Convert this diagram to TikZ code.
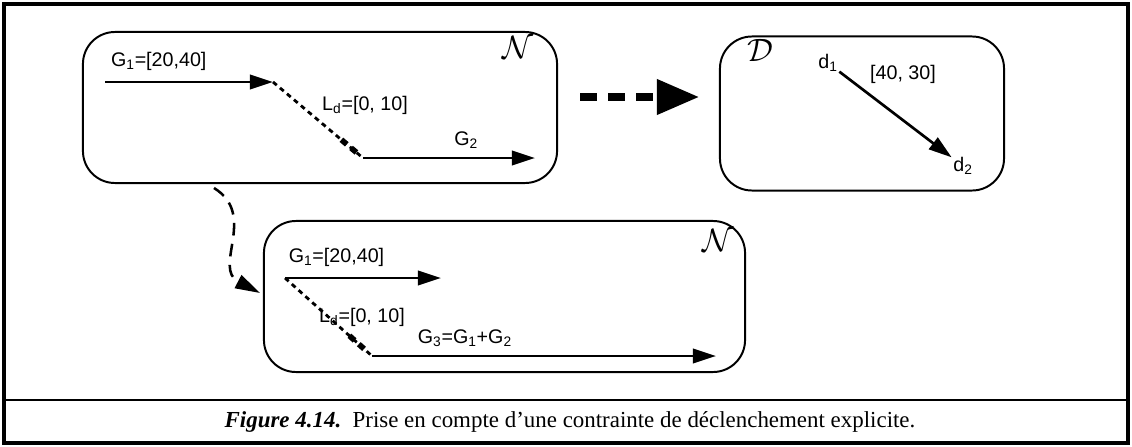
\documentclass[tikz,border=0pt]{standalone}
\usepackage{fontspec}
\newfontfamily\labfont{Liberation Sans}
\newfontfamily\capfont{Liberation Serif}
\usetikzlibrary{arrows.meta,positioning,calc}

\tikzset{
  netbox/.style={draw, line width=1.4pt, rounded corners=0.8cm, inner sep=0pt},
  lab/.style={font=\labfont\fontsize{14}{14}\selectfont, inner sep=1pt},
  scr/.style={inner sep=0pt},
  garrow/.style={line width=1.9pt, -{Triangle[length=0.58cm, width=0.36cm]}},
  delay/.style={line width=2pt, dash pattern=on 3.5pt off 3pt},
  delaymark/.style={line width=4pt, dash pattern=on 5pt off 4pt}
}

\begin{document}
\begin{tikzpicture}[x=0.025cm, y=-0.025cm]
    \useasboundingbox (0,0) rectangle (1132,447);

    % Frame and caption line
    \draw[line width=2.6pt] (4,4) rectangle (1128,443);
    \draw[line width=2pt] (4,400) -- (1128,400);
    \node (cap) at (570,422) {\capfont\fontsize{16.3}{16}\selectfont\textbf{\textit{Figure 4.14.}}\ \ Prise en compte d’une contrainte de déclenchement explicite.};

    % Top network
    \node[netbox, minimum width=11.85cm, minimum height=3.775cm] (N1) at (320,107.5) {};
    \node[scr] (n1) at (518,47) {\scalebox{2.3}{$\mathcal{N}$}};
    \coordinate (a1) at (105,82);
    \coordinate (a2) at (273,82);
    \coordinate (b1) at (363,158);
    \coordinate (b2) at (535,158);
    \draw[garrow] (a1) -- (a2) node[lab, pos=0.32, above=6pt] (g1) {G\textsubscript{1}=[20,40]};
    \draw[delay] (a2) -- (b1);
    \draw[delaymark] ($(a2)!0.76!(b1)$) -- ($(a2)!0.97!(b1)$);
    \node[lab] (ld1) at (365,105) {L\textsubscript{d}=[0, 10]};
    \draw[garrow] (b1) -- (b2) node[lab, pos=0.6, above=5pt] (g2) {G\textsubscript{2}};

    % Distance graph
    \node[netbox, minimum width=7.1cm, minimum height=3.85cm] (D) at (862,113.5) {};
    \node[scr] (dd) at (760,50) {\scalebox{2.3}{$\mathcal{D}$}};
    \node[lab] (d1) at (828,63) {d\textsubscript{1}};
    \node[lab] (d2) at (963,166) {d\textsubscript{2}};
    \draw[garrow] (d1) -- (d2);
    \node[lab] (w) at (903,74) {[40, 30]};

    % Translation arrow
    \coordinate (t1) at (580,97);
    \coordinate (t2) at (699,97);
    \draw[line width=5pt, dash pattern=on 12pt off 8pt, -{Triangle[length=1.05cm, width=0.85cm]}] (t1) -- (t2);

    % Bottom network
    \node[netbox, minimum width=12.025cm, minimum height=3.775cm] (N2) at (504.5,296.5) {};
    \node[scr] (n2) at (718,240) {\scalebox{2.3}{$\mathcal{N}$}};
    \coordinate (e1) at (285,278);
    \coordinate (e2) at (441,278);
    \coordinate (f1) at (372,356);
    \coordinate (f2) at (716,356);
    \draw[garrow] (e1) -- (e2) node[lab, pos=0.33, above=6pt] (g1b) {G\textsubscript{1}=[20,40]};
    \draw[delay] (e1) -- (f1);
    \draw[delaymark] ($(e1)!0.74!(f1)$) -- ($(e1)!0.95!(f1)$);
    \node[lab] (ld2) at (362,317) {L\textsubscript{d}=[0, 10]};
    \draw[garrow] (f1) -- (f2) node[lab, pos=0.27, above=5pt] (g3) {G\textsubscript{3}=G\textsubscript{1}+G\textsubscript{2}};

    % Curved link
    \coordinate (c1) at (214,188);
    \draw[line width=1.8pt, dash pattern=on 9pt off 6pt, -{Triangle[length=0.62cm, width=0.36cm]}]
        (c1) .. controls (258,215) and (212,268) .. (260,293);
\end{tikzpicture}
\end{document}
